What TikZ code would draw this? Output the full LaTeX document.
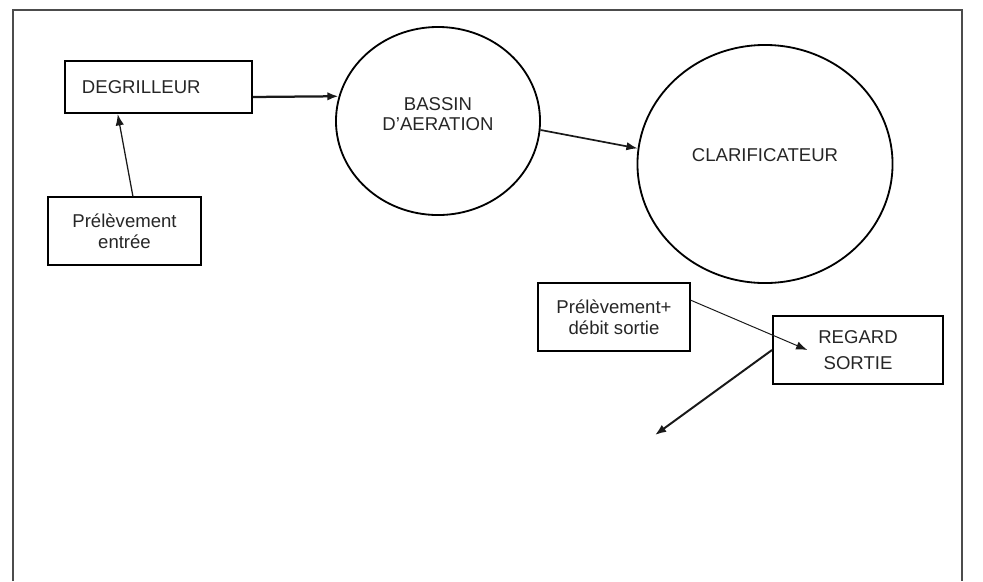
\documentclass[tikz,border=0pt]{standalone}
\usepackage{fontspec}
\setmainfont{Liberation Sans}
\usetikzlibrary{arrows.meta,shapes.geometric}

\begin{document}
\begin{tikzpicture}[x=0.025cm,y=-0.025cm]
    \tikzstyle{BoxStyle}=[shape = rectangle, draw, line width = 0.8pt, minimum width = 3.8cm, minimum height = 1.7cm, align = center, font = \fontsize{13.2}{14.6}\selectfont, text = black!85]
    \tikzstyle{TankStyle}=[shape = ellipse, draw, line width = 1.3pt, inner sep = 0pt, align = center, font = \fontsize{13.2}{14.6}\selectfont, text = black!85]
    \tikzstyle{EdgeStyle}=[-{Latex[length=8pt,width=6pt]}, line width = 1.2pt, black!90]
   \useasboundingbox (0,0) rectangle (983,581);
   % cadre
   \draw[line width = 0.9pt, black!70] (13,581) -- (13,10) -- (962,10) -- (962,581);
   % ouvrages
   \node[BoxStyle, line width = 1.6pt, minimum height = 1.3cm, text width = 3.825cm, inner xsep = 0.425cm, align = left] (degrilleur) at (158.5,87) {DEGRILLEUR};
   \node[TankStyle, minimum width = 5.1cm, minimum height = 4.7cm, text depth = 10pt] (bassin) at (438,121) {BASSIN\\D'AERATION};
   \node[TankStyle, minimum width = 6.375cm, minimum height = 5.95cm, text depth = 12.8pt] (clarif) at (765,164) {CLARIFICATEUR};
   \node[BoxStyle, line width = 1.4pt, minimum width = 4.25cm] (regard) at (858,350) {REGARD\\[4pt]SORTIE};
   % points de prelevement
   \node[BoxStyle, minimum width = 3.825cm] (entree) at (124.5,231) {Prélèvement\\entrée};
   \node[BoxStyle] (sortie) at (614,317) {Prélèvement+\\débit sortie};
   \coordinate (rejet) at (655,435);
   % liaisons
   \draw[EdgeStyle, line width = 1.6pt] ([yshift=-7.1pt]degrilleur.east) -- (bassin.166);
   \draw[EdgeStyle, line width = 0.9pt] ([xshift=6pt]entree.north) -- ([xshift=-29pt]degrilleur.south);
   \draw[EdgeStyle] (bassin.-5) -- (clarif.173);
   \draw[EdgeStyle, line width = 0.7pt] ([yshift=12pt]sortie.east) -- ([xshift=-36pt]regard.center);
   \draw[EdgeStyle, line width = 1.4pt] (regard.west) -- (rejet);
\end{tikzpicture}
\end{document}
